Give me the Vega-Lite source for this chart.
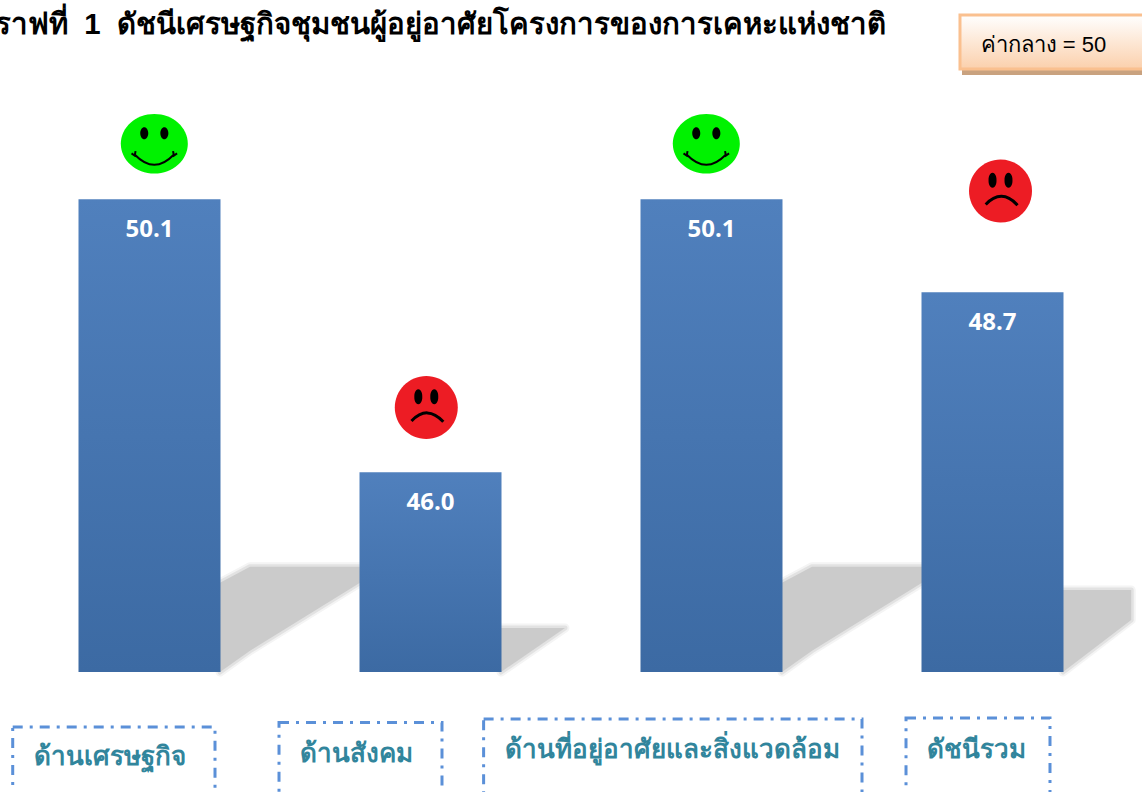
{
"$schema":"https://vega.github.io/schema/vega-lite/v6.json",
"width":1142,"height":792,
"autosize":{"type":"fit","contains":"padding"},
"padding":0,
"background":"white",
"config":{"view":{"stroke":null}},
"datasets":{
"bars":[{"x":1,"y":50.1,"cat":"ด้านเศรษฐกิจ"},{"x":2,"y":46.0,"cat":"ด้านสังคม"},{"x":3,"y":50.1,"cat":"ด้านที่อยู่อาศัยและสิ่งแวดล้อม"},{"x":4,"y":48.7,"cat":"ดัชนีรวม"}],
"shadows":[
{"s":"a","x":1.2509,"y":44.34,"y2":43.0},{"s":"a","x":1.3577,"y":44.58,"y2":43.32},{"s":"a","x":1.7491,"y":44.58,"y2":44.34},
{"s":"b","x":2.2509,"y":43.66,"y2":43.0},{"s":"b","x":2.4786,"y":43.66,"y2":43.66},
{"s":"c","x":3.2509,"y":44.34,"y2":43.0},{"s":"c","x":3.3577,"y":44.58,"y2":43.32},{"s":"c","x":3.7491,"y":44.58,"y2":44.34},
{"s":"d","x":4.2509,"y":44.23,"y2":43.0},{"s":"d","x":4.4936,"y":44.23,"y2":43.78}
],
"faces":[{"x":1.0171,"y":50.932,"mood":"happy"},{"x":2.9815,"y":50.932,"mood":"happy"},{"x":1.985,"y":46.971,"mood":"sad"},{"x":4.0285,"y":50.222,"mood":"sad"}],
"boxes":[{"x":0.5132,"x2":1.2331,"y":42.174,"y2":41.0},{"x":1.4609,"x2":2.0409,"y":42.242,"y2":41.0},{"x":2.189,"x2":3.5356,"y":42.294,"y2":41.0},{"x":3.6922,"x2":4.2046,"y":42.309,"y2":41.0}],
"labels":[{"x":0.8612,"y":41.724,"t":"ด้านเศรษฐกิจ"},{"x":1.7349,"y":41.769,"t":"ด้านสังคม"},{"x":2.8612,"y":41.829,"t":"ด้านที่อยู่อาศัยและสิ่งแวดล้อม"},{"x":3.9413,"y":41.829,"t":"ดัชนีรวม"}]
},
"encoding":{
"x":{"field":"x","type":"quantitative","axis":null,"scale":{"domain":[0.46797,4.53203],"nice":false,"zero":false,"padding":0}},
"y":{"field":"y","type":"quantitative","axis":null,"scale":{"domain":[41.198,53.09],"nice":false,"zero":false,"padding":0}}
},
"layer":[
{"data":{"name":"shadows"},"mark":{"type":"area","clip":true,"fill":"#f4f4f4","stroke":"#f4f4f4","strokeWidth":9,"strokeJoin":"round"},"encoding":{"y2":{"field":"y2"},"detail":{"field":"s"}}},
{"data":{"name":"shadows"},"mark":{"type":"area","clip":true,"fill":"#e2e2e2","stroke":"#e2e2e2","strokeWidth":5,"strokeJoin":"round"},"encoding":{"y2":{"field":"y2"},"detail":{"field":"s"}}},
{"data":{"name":"shadows"},"mark":{"type":"area","clip":true,"fill":"#cbcbcb"},"encoding":{"y2":{"field":"y2"},"detail":{"field":"s"}}},
{"data":{"name":"bars"},"mark":{"type":"bar","size":142,"fill":{"gradient":"linear","x1":0,"y1":0,"x2":0,"y2":1,"stops":[{"offset":0,"color":"#5080bd"},{"offset":1,"color":"#3c6aa3"}]}},"encoding":{"y2":{"datum":43}}},
{"data":{"name":"bars"},"mark":{"type":"text","dy":31,"fontSize":24,"fontWeight":"bold","font":"Open Sans","color":"white"},"encoding":{"text":{"field":"y","format":".1f"}}},
{"data":{"name":"faces"},"transform":[{"filter":"datum.mood==='happy'"}],"mark":{"type":"point","filled":true,"size":4489,"opacity":1,"shape":"M-1,0A1,0.89,0,1,1,1,0A1,0.89,0,1,1,-1,0Z","color":"#00f200"}},
{"data":{"name":"faces"},"transform":[{"filter":"datum.mood==='happy'"}],"mark":{"type":"point","filled":true,"size":4489,"opacity":1,"shape":"M-0.42,-0.31A0.12,0.18,0,1,1,-0.18,-0.31A0.12,0.18,0,1,1,-0.42,-0.31ZM0.18,-0.31A0.12,0.18,0,1,1,0.42,-0.31A0.12,0.18,0,1,1,0.18,-0.31Z","color":"#000000"}},
{"data":{"name":"faces"},"transform":[{"filter":"datum.mood==='happy'"}],"mark":{"type":"point","filled":false,"size":4489,"opacity":1,"strokeWidth":2,"shape":"M-0.58,0.33Q0,0.93,0.58,0.33M-0.68,0.29L-0.55,0.38M0.68,0.29L0.55,0.38M-0.58,0.33L-0.56,0.22M0.58,0.33L0.56,0.22","color":"#000000"}},
{"data":{"name":"faces"},"transform":[{"filter":"datum.mood==='sad'"}],"mark":{"type":"point","filled":true,"size":3969,"opacity":1,"shape":"M-1,0A1,1,0,1,1,1,0A1,1,0,1,1,-1,0Z","color":"#ed1c24"}},
{"data":{"name":"faces"},"transform":[{"filter":"datum.mood==='sad'"}],"mark":{"type":"point","filled":true,"size":3969,"opacity":1,"shape":"M-0.38,-0.34A0.127,0.22,0,1,1,-0.127,-0.34A0.127,0.22,0,1,1,-0.38,-0.34ZM0.127,-0.34A0.127,0.22,0,1,1,0.38,-0.34A0.127,0.22,0,1,1,0.127,-0.34Z","color":"#000000"}},
{"data":{"name":"faces"},"transform":[{"filter":"datum.mood==='sad'"}],"mark":{"type":"point","filled":false,"size":3969,"opacity":1,"strokeWidth":3,"shape":"M-0.47,0.43Q0.03,-0.1,0.54,0.45","color":"#000000"}},
{"data":{"name":"boxes"},"mark":{"type":"rect","clip":true,"fill":null,"stroke":"#5b90d8","strokeWidth":3,"strokeDash":[10,7,3,7]},"encoding":{"x2":{"field":"x2"},"y2":{"field":"y2"}}},
{"data":{"name":"labels"},"mark":{"type":"text","fontSize":26,"fontWeight":"bold","font":"Noto Sans","color":"#31859c"},"encoding":{"text":{"field":"t"}}},
{"data":{"values":[{"x":3.8915,"x2":4.6,"y":52.054,"y2":51.964}]},"mark":{"type":"rect","clip":true,"fill":"#c9a27f"},"encoding":{"x2":{"field":"x2"},"y2":{"field":"y2"}}},
{"data":{"values":[{"x":3.8843,"x2":4.6,"y":52.865,"y2":52.054}]},"mark":{"type":"rect","clip":true,"stroke":"#fac08f","strokeWidth":3,"fill":{"gradient":"linear","x1":0,"y1":0,"x2":0,"y2":1,"stops":[{"offset":0,"color":"#ffffff"},{"offset":1,"color":"#fbd0ac"}]}},"encoding":{"x2":{"field":"x2"},"y2":{"field":"y2"}}},
{"data":{"values":[{"x":4.1815,"y":52.414,"t":"ค่ากลาง = 50"}]},"mark":{"type":"text","fontSize":22,"font":"Liberation Sans","color":"#000000"},"encoding":{"text":{"field":"t"}}},
{"data":{"values":[{"x":0.4502,"y":52.715,"t":"ราฟที่\u00a0\u00a01\u00a0\u00a0ดัชนีเศรษฐกิจชุมชนผู้อยู่อาศัยโครงการของการเคหะแห่งชาติ"}]},"mark":{"type":"text","clip":true,"align":"left","fontSize":29.4,"fontWeight":"bold","font":"Liberation Sans","color":"#000000"},"encoding":{"text":{"field":"t"}}}
]
}
